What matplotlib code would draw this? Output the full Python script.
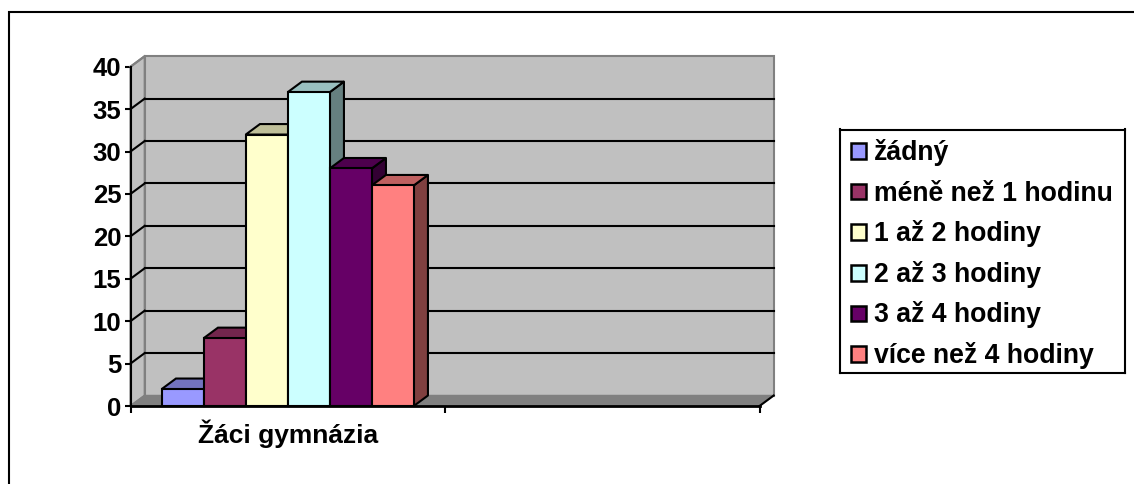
import matplotlib
matplotlib.use("Agg")
import matplotlib.pyplot as plt
from matplotlib.lines import Line2D
from matplotlib.patches import Polygon, Rectangle
from matplotlib.colors import to_rgb

W = 1134
H = 484

labels = ["žádný", "méně než 1 hodinu", "1 až 2 hodiny", "2 až 3 hodiny", "3 až 4 hodiny", "více než 4 hodiny"]
values = [2, 8, 32, 37, 28, 26]
colors = ["#9999ff", "#993366", "#ffffcc", "#ccffff", "#660066", "#ff8080"]
yticks = [0, 5, 10, 15, 20, 25, 30, 35, 40]
category = "Žáci gymnázia"

plt.rcParams["font.family"] = ["Liberation Sans", "DejaVu Sans"]
plt.rcParams["font.weight"] = "bold"

fig = plt.figure(figsize=(W / 100, H / 100), dpi=100)

# outer frame of the chart, only top and left show in the crop
fig.add_artist(Line2D([9 / W, 9 / W, 1], [0, 1 - 12 / H, 1 - 12 / H], transform=fig.transFigure,
                      color="black", linewidth=1.5, solid_joinstyle="miter"))

# front plane of the 3d box, in pixels
left, right, top, bottom = 130.5, 759.5, 66.7, 406
ax = fig.add_axes([left / W, 1 - bottom / H, (right - left) / W, (bottom - top) / H])
ax.set_xlim(0, 2)
ax.set_ylim(0, 40)
ax.patch.set_alpha(0)
for s in ["top", "right"]:
    ax.spines[s].set_visible(False)
ax.spines["left"].set_linewidth(1.5)
ax.spines["bottom"].set_linewidth(2)

dx = 14.2 * 2 / (right - left)
dy = 10.5 * 40 / (bottom - top)
grey = "#808080"

# side wall, back wall, floor
ax.add_patch(Polygon([(0, 0), (dx, dy), (dx, 40 + dy), (0, 40)], closed=True, facecolor="#c0c0c0",
                     edgecolor=grey, linewidth=1.5, clip_on=False, zorder=1))
ax.add_patch(Rectangle((dx, dy), 2, 40, facecolor="#c0c0c0", edgecolor=grey, linewidth=1.5,
                       clip_on=False, zorder=1))
ax.add_patch(Polygon([(0, 0), (2, 0), (2 + dx, dy), (dx, dy)], closed=True, facecolor=grey,
                     edgecolor=grey, linewidth=1, clip_on=False, zorder=1))

# gridlines with the diagonal part on the side wall
for t in yticks[1:]:
    if t < 40:
        ax.plot([dx, 2 + dx], [t + dy, t + dy], color="black", linewidth=1.5, clip_on=False, zorder=2)
    ax.plot([0, dx], [t, t + dy], color="black" if t < 40 else grey, linewidth=1.5, clip_on=False, zorder=2)
ax.plot([2, 2 + dx], [0, dy], color="black", linewidth=1.5, clip_on=False, zorder=2)


def shade(color, f):
    r, g, b = to_rgb(color)
    return (r * f, g * f, b * f)


bar_w = 42 * 2 / (right - left)
start = 0.5 - bar_w * len(values) / 2
for i, v in enumerate(values):
    x0 = start + i * bar_w
    x1 = x0 + bar_w
    z = 3 + i
    ax.add_patch(Polygon([(x1, 0), (x1 + dx, dy), (x1 + dx, v + dy), (x1, v)], closed=True,
                         facecolor=shade(colors[i], 0.5), edgecolor="black", linewidth=1.5,
                         clip_on=False, zorder=z, joinstyle="round"))
    ax.add_patch(Polygon([(x0, v), (x1, v), (x1 + dx, v + dy), (x0 + dx, v + dy)], closed=True,
                         facecolor=shade(colors[i], 0.75), edgecolor="black", linewidth=1.5,
                         clip_on=False, zorder=z))
    ax.add_patch(Rectangle((x0, 0), bar_w, v, facecolor=colors[i], edgecolor="black", linewidth=1.5,
                           clip_on=False, zorder=z + 0.5))

ax.set_yticks(yticks)
ax.set_xticks([0, 1, 2])
ax.set_xticklabels([])
ax.tick_params(axis="y", length=4, width=1.5, labelsize=18.5, pad=2.5)
ax.tick_params(axis="x", length=5, width=1.5)
ax.text(0.5, -4.36, category, ha="center", va="baseline", fontsize=19, fontweight="bold")
for s in ax.spines.values():
    s.set_zorder(20)

# legend drawn as its own box
leg_left, leg_right, leg_top, leg_bottom = 840, 1125, 129.5, 373
lax = fig.add_axes([leg_left / W, 1 - leg_bottom / H, (leg_right - leg_left) / W, (leg_bottom - leg_top) / H])
lax.set_xlim(leg_left, leg_right)
lax.set_ylim(leg_bottom, leg_top)
lax.set_xticks([])
lax.set_yticks([])
for s in lax.spines.values():
    s.set_linewidth(1.5)
row_h = 40.6
for i, name in enumerate(labels):
    y = 151 + i * row_h
    lax.add_patch(Rectangle((850.5, y - 7.75), 15.5, 15.5, facecolor=colors[i], edgecolor="black", linewidth=1.8))
    lax.text(874, y + 9, name, ha="left", va="baseline", fontsize=19.2, fontweight="bold")

fig.savefig("out.png", dpi=100)
